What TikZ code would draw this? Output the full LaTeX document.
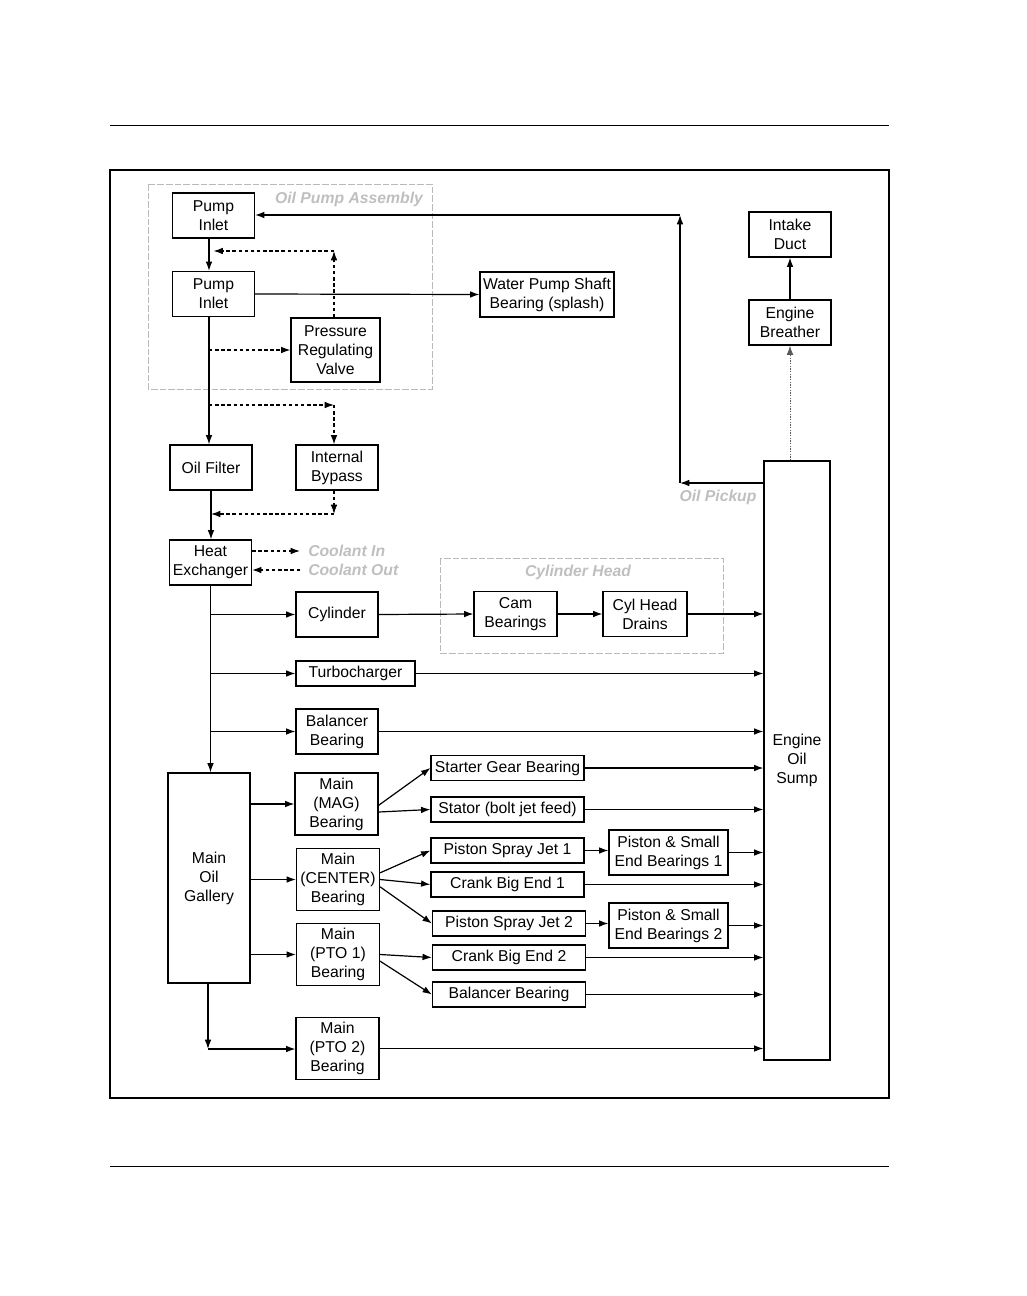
\documentclass[tikz,border=0pt]{standalone}
\usepackage{fontspec}
\setmainfont{Liberation Sans}
\usetikzlibrary{arrows.meta}

\begin{document}
\begin{tikzpicture}[x=0.75pt, y=-0.75pt,
    font=\fontsize{11.8}{14.2}\selectfont,
    >={Latex[length=7pt,width=5pt]},
    box/.style={draw, line width=0.9pt, align=center, inner sep=0pt,
        minimum width=61.5pt, minimum height=33.75pt},
    flat/.style={box, minimum width=114.75pt, minimum height=18.75pt},
    mainb/.style={box, minimum width=62.25pt, minimum height=46.5pt},
    wide/.style={box, minimum width=89.25pt},
    flow/.style={->, line width=0.9pt},
    bypass/.style={->, line width=0.9pt, dash pattern=on 2.6pt off 2pt},
    group/.style={draw=gray!55, line width=0.7pt, dash pattern=on 5pt off 1.5pt},
    tag/.style={text=gray!50, font=\fontsize{11.8}{14}\selectfont\bfseries\itshape}]

    % --- 页面范围和边框 ---
    \useasboundingbox (0,0) rectangle (1026,1296);
    \draw[line width=0.7pt] (110,125) -- (889,125);
    \draw[line width=0.7pt] (110,1166) -- (889,1166);
    \draw[line width=1pt] (110,170) rectangle (889,1098);

    % --- 虚线分组框 ---
    \draw[group] (148,184) rectangle (432,389);
    \node[tag] (pumplbl) at (349,199) {Oil Pump Assembly};
    \draw[group] (440,558) rectangle (723,653);
    \node[tag] (headlbl) at (578,572) {Cylinder Head};

    % --- 油泵部分 ---
    \node[box] (inlet1) at (213.5,215.5) {Pump\\Inlet};
    \node[box] (inlet2) at (213.5,294) {Pump\\Inlet};
    \node[box, minimum width=66.75pt, minimum height=48pt] (prv) at (335.5,350) {Pressure\\Regulating\\Valve};
    \node[box, minimum width=100.5pt] (wpump) at (547,294.5) {Water Pump Shaft\\Bearing (splash)};

    % --- 滤清器和冷却器 ---
    \node[box] (filter) at (211,467.5) {Oil Filter};
    \node[box] (bypass) at (337,467.5) {Internal\\Bypass};
    \node[box] (hex) at (210.5,562.5) {Heat\\Exchanger};
    \node[tag, anchor=west, inner sep=6pt] (coolin) at (300,551) {Coolant In};
    \node[tag, anchor=west, inner sep=6pt] (coolout) at (300,570) {Coolant Out};

    % --- 气缸、涡轮和平衡轴 ---
    \node[box] (cyl) at (337,614.5) {Cylinder};
    \node[box, minimum width=62.25pt] (cam) at (515.5,614) {Cam\\Bearings};
    \node[box, minimum width=63pt] (drain) at (645,614) {Cyl Head\\Drains};
    \node[box, minimum width=89.25pt, minimum height=18.75pt] (turbo) at (355.5,673.5) {Turbocharger};
    \node[box] (bal1) at (337,731.5) {Balancer\\Bearing};

    % --- 主油道和主轴承 ---
    \node[box, minimum height=157.5pt] (gallery) at (209,878) {Main\\Oil\\Gallery};
    \node[mainb] (mag) at (336.5,804) {Main\\(MAG)\\Bearing};
    \node[mainb] (center) at (338,879.5) {Main\\(CENTER)\\Bearing};
    \node[mainb] (pto1) at (338,954.5) {Main\\(PTO 1)\\Bearing};
    \node[mainb] (pto2) at (337.5,1048.5) {Main\\(PTO 2)\\Bearing};

    % --- 各润滑点 ---
    \node[flat] (starter) at (507.5,768) {Starter Gear Bearing};
    \node[flat] (stator) at (507.5,809.5) {Stator (bolt jet feed)};
    \node[flat] (jet1) at (507.5,850.5) {Piston Spray Jet 1};
    \node[flat] (big1) at (507.5,884.5) {Crank Big End 1};
    \node[flat] (jet2) at (509,923.5) {Piston Spray Jet 2};
    \node[flat] (big2) at (509,957.5) {Crank Big End 2};
    \node[flat] (bal2) at (509,994.5) {Balancer Bearing};
    \node[wide] (pse1) at (668.5,852.5) {Piston \& Small\\End Bearings 1};
    \node[wide] (pse2) at (668.5,925.5) {Piston \& Small\\End Bearings 2};

    % --- 油底壳和通风 ---
    \node[box, minimum width=49.5pt, minimum height=449.25pt] (sump) at (797,760.5) {Engine\\Oil\\Sump};
    \node[box] (intake) at (790,234.5) {Intake\\Duct};
    \node[box] (breather) at (790,322.5) {Engine\\Breather};
    \node[tag] (picklbl) at (718,497) {Oil Pickup};

    % --- 辅助坐标 ---
    \coordinate (trunk) at (209,0);
    \coordinate (pk) at (680,483);
    \coordinate (pt) at (680,215);
    \coordinate (rv) at (334,251);
    \coordinate (bp) at (334,405);
    \coordinate (br) at (334,514);
    \coordinate (gb) at (208,1049);

    % --- 吸油管路 ---
    \draw[flow] (pk -| sump.west) -- (pk);
    \draw[flow] (pk) -- (pt);
    \draw[flow] (pt) -- (pt -| inlet1.east);

    % --- 油泵内部 ---
    \draw[flow] (trunk |- inlet1.south) -- (trunk |- inlet2.north);
    \draw[flow] (inlet2.east) -- (wpump.west);
    \draw[bypass] (rv |- prv.north) -- (rv);
    \draw[bypass] (rv) -- (rv -| inlet1.south);
    \draw[bypass] (trunk |- prv.west) -- (prv.west);
    \draw[flow] (trunk |- inlet2.south) -- (trunk |- filter.north);

    % --- 旁通和冷却 ---
    \draw[bypass] (trunk |- bp) -- (bp);
    \draw[bypass] (bp) -- (bp |- bypass.north);
    \draw[flow] (filter.south) -- (filter.south |- hex.north);
    \draw[bypass] (br |- bypass.south) -- (br);
    \draw[bypass] (br) -- (br -| filter.south);
    \draw[bypass] (hex.east |- coolin.west) -- (coolin.west);
    \draw[bypass] (coolout.west) -- (hex.east |- coolout.west);

    % --- 主干分支 ---
    \draw[flow] (hex.south) -- (hex.south |- gallery.north);
    \draw[flow] (hex.south |- cyl.west) -- (cyl.west);
    \draw[flow] (hex.south |- turbo.west) -- (turbo.west);
    \draw[flow] (hex.south |- bal1.west) -- (bal1.west);
    \draw[flow] (cyl.east) -- (cam.west);
    \draw[flow] (cam.east) -- (drain.west);
    \draw[flow] (drain.east) -- (drain.east -| sump.west);
    \draw[flow] (turbo.east) -- (turbo.east -| sump.west);
    \draw[flow] (bal1.east) -- (bal1.east -| sump.west);

    % --- 主油道到轴承 ---
    \draw[flow] (gallery.east |- mag.west) -- (mag.west);
    \draw[flow] (gallery.east |- center.west) -- (center.west);
    \draw[flow] (gallery.east |- pto1.west) -- (pto1.west);
    \draw[flow] (gb |- gallery.south) -- (gb);
    \draw[flow] (gb) -- (gb -| pto2.west);

    % --- 轴承到润滑点 ---
    \draw[flow] ([yshift=-1pt]mag.east) -- (starter.west);
    \draw[flow] ([yshift=-6pt]mag.east) -- (stator.west);
    \draw[flow] ([yshift=5pt]center.east) -- (jet1.west);
    \draw[flow] (center.east) -- (big1.west);
    \draw[flow] ([yshift=-5.5pt]center.east) -- (jet2.west);
    \draw[flow] (pto1.east) -- (big2.west);
    \draw[flow] ([yshift=-5pt]pto1.east) -- (bal2.west);
    \draw[flow] (jet1.east) -- (pse1.west |- jet1.east);
    \draw[flow] (jet2.east) -- (pse2.west |- jet2.east);

    % --- 回油到油底壳 ---
    \foreach \src in {starter, stator, pse1, big1, pse2, big2, bal2, pto2}
        \draw[flow] (\src.east) -- (\src.east -| sump.west);

    % --- 曲轴箱通风 ---
    \draw[->, line width=0.6pt, gray!70!black, dash pattern=on 1pt off 1pt] (breather.south |- sump.north) -- (breather.south);
    \draw[flow] (breather.north) -- (intake.south);

\end{tikzpicture}
\end{document}
